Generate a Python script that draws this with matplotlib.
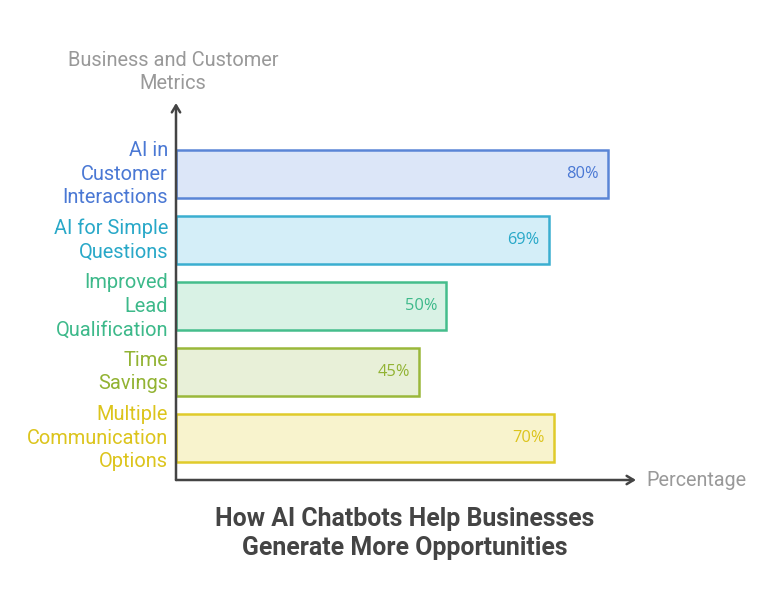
import matplotlib
matplotlib.use("Agg")
import matplotlib.pyplot as plt
from matplotlib.transforms import offset_copy

categories = ["AI in\nCustomer\nInteractions", "AI for Simple\nQuestions", "Improved\nLead\nQualification",
              "Time\nSavings", "Multiple\nCommunication\nOptions"]
values = [80, 69, 50, 45, 70]
value_labels = ["80%", "69%", "50%", "45%", "70%"]
edge_colors = ["#5a85d6", "#3aaed0", "#45bd8c", "#9ab83a", "#e0cb2a"]
fill_colors = ["#dce6f8", "#d4eef8", "#d9f2e5", "#e8f0d8", "#f8f3cd"]
text_colors = ["#4a78d4", "#28a8c8", "#3db98a", "#92b333", "#dcc41c"]
x_title = "Percentage"
y_title = "Business and Customer\nMetrics"
title = "How AI Chatbots Help Businesses\nGenerate More Opportunities"

W, H = 773, 612
fig = plt.figure(figsize=(W / 100, H / 100), dpi=100)
x0, x1 = 176, 636
y0, y1 = 480, 103
ax = fig.add_axes([x0 / W, (H - y0) / H, (x1 - x0) / W, (y0 - y1) / H])
px_per = 5.4
ax.set_xlim(0, (x1 - x0) / px_per)
ax.set_ylim((y0 - 174) / 66, (y1 - 174) / 66)
ax.axis("off")

font = "Roboto"
pos = list(range(len(categories)))
ax.barh(pos, values, height=48 / 66, color=fill_colors, edgecolor=edge_colors, linewidth=1.8, zorder=2)

for i, (v, lab, c) in enumerate(zip(values, value_labels, text_colors)):
    t = offset_copy(ax.transData, fig=fig, x=-9, y=0, units="dots")
    ax.text(v, i, lab, transform=t, ha="right", va="center", color=c, fontsize=11.8,
            family="Open Sans")
    t2 = offset_copy(ax.transData, fig=fig, x=-8, y=0, units="dots")
    ax.text(0, i, categories[i], transform=t2, ha="right", va="center", color=c, fontsize=14.4,
            family=font, linespacing=1.32)

# axes with arrows
axis_col = "#444444"
ax.annotate("", xy=(1, 0), xycoords="axes fraction", xytext=(0, 0),
            arrowprops=dict(arrowstyle="->,head_length=0.5,head_width=0.3", color=axis_col, lw=1.8,
                            shrinkA=0, shrinkB=0))
ax.annotate("", xy=(0, 1), xycoords="axes fraction", xytext=(0, 0),
            arrowprops=dict(arrowstyle="->,head_length=0.5,head_width=0.3", color=axis_col, lw=1.8,
                            shrinkA=0, shrinkB=0))

fig.text(646 / W, 1 - 480 / H, x_title, ha="left", va="center", color="#999999", fontsize=14.2, family=font)
fig.text(173 / W, 1 - 72 / H, y_title, ha="center", va="center", color="#999999", fontsize=14.4,
         family=font, linespacing=1.32)
fig.text(405 / W, 1 - 533.5 / H, title, ha="center", va="center", color="#444444", fontsize=17.9,
         family=font, weight="bold", linespacing=1.23)

fig.savefig("out.png", dpi=100, facecolor="white")
